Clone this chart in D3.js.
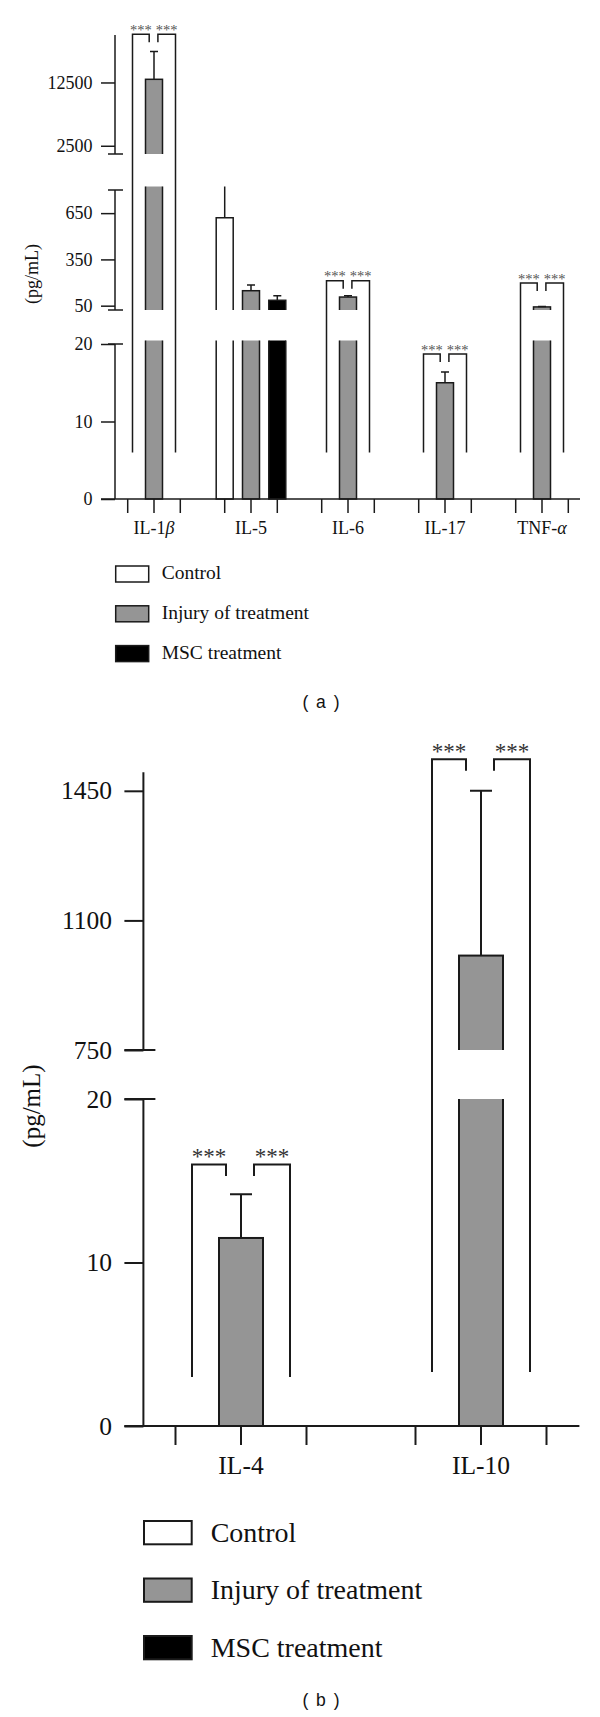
<!DOCTYPE html>
<html>
<head>
<meta charset="utf-8">
<script src="https://cdn.jsdelivr.net/npm/d3@7"></script>
<style>
  body { margin: 0; background: #fff; }
  svg { display: block; }
</style>
</head>
<body>
<div id="chart"></div>
<script>
// series shared by both panels
let seriesNames = ["Control", "Injury of treatment", "MSC treatment"];

// panel (a) values, pg/mL, null = not drawn
let groupsA = ["IL-1β", "IL-5", "IL-6", "IL-17", "TNF-α"];
let controlA = [null, 620, null, null, null];
let controlErrA = [null, 420, null, null, null];
let injuryA = [13000, 147, 106, 15, 42];
let injuryErrA = [4400, 37, 8, 1.4, 3];
let mscA = [null, 85, null, null, null];
let mscErrA = [null, 30, null, null, null];
let bracketTopA = [20100, null, 212, 18.7, 197];
let bracketBottomA = [6, null, 6, 6, 6];
let yTicksA = [[0, 10, 20], [50, 350, 650], [2500, 12500]];

// panel (b)
let groupsB = ["IL-4", "IL-10"];
let controlB = [null, null];
let controlErrB = [null, null];
let injuryB = [11.5, 1005];
let injuryErrB = [2.67, 445];
let mscB = [null, null];
let mscErrB = [null, null];
let bracketTopB = [16, 1535];
let bracketBottomB = [3.0, 3.3];
let yTicksB = [[0, 10, 20], [750, 1100, 1450]];

let fills = ["#ffffff", "#959595", "#000000"];
let ink = "#1a1a1a";
let serif = "'Liberation Serif', 'Times New Roman', serif";

let svg = d3.select("#chart").append("svg")
    .attr("width", 600)
    .attr("height", 1717);

let panelA = {
    id: "a",
    groups: groupsA,
    series: [
        {values: controlA, errs: controlErrA},
        {values: injuryA, errs: injuryErrA},
        {values: mscA, errs: mscErrA}
    ],
    yTicks: yTicksA,
    bracketTop: bracketTopA,
    bracketBottom: bracketBottomA,
    segments: [
        {domain: [0, 20], range: [499, 344]},
        {domain: [22, 800], range: [310, 190]},
        {domain: [1200, 20000], range: [154, 35]}
    ],
    axisX: 115, axisY: 499,
    xRange: [154, 542], subStep: 26.3, xLine: [101, 580],
    barW: 17, capW: 8, lw: 1.5, overshoot: 3.5,
    tickLen: 14, tickPad: 8.5, breakL: 7, breakR: 8,
    font: 18, labelBase: 534,
    yTitle: {x: 38, y: 274, size: 18},
    bracket: {outer: 4.8, innerL: 4.8, innerR: 3.9, drop: 8, starSize: 14.5, starDy: 0.5, starColor: "#555"},
    legend: {x: 115.7, y: 566, w: 33, h: 16, step: 39.8, textX: 161.7, textDy: 13.3, size: 19.5},
    caption: {text: "( a )", y: 707.5}
};

let panelB = {
    id: "b",
    groups: groupsB,
    series: [
        {values: controlB, errs: controlErrB},
        {values: injuryB, errs: injuryErrB},
        {values: mscB, errs: mscErrB}
    ],
    yTicks: yTicksB,
    bracketTop: bracketTopB,
    bracketBottom: bracketBottomB,
    segments: [
        {domain: [0, 20], range: [1426, 1099]},
        {domain: [750, 1500], range: [1050, 772.3]}
    ],
    axisX: 143.4, axisY: 1426,
    xRange: [241, 481], subStep: 65.5, xLine: [124.3, 579.4],
    barW: 44, capW: 22, lw: 2, overshoot: 0,
    tickLen: 19, tickPad: 12.3, breakL: 19, breakR: 12,
    font: 25.5, labelBase: 1474,
    yTitle: {x: 40.3, y: 1106, size: 25},
    bracket: {outer: 16.5, innerL: 15, innerR: 13, drop: 11.5, starSize: 23, starDy: 0, starColor: "#333"},
    legend: {x: 144, y: 1521, w: 47.7, h: 23.3, step: 57.5, textX: 210.7, textDy: 20.7, size: 28},
    caption: {text: "( b )", y: 1705.5}
};

drawPanel(panelA);
drawPanel(panelB);

function drawPanel(p) {
    let g = svg.append("g");

    let x = d3.scalePoint().domain(p.groups).range(p.xRange);
    let sub = d3.scalePoint().domain(seriesNames).range([-p.subStep, p.subStep]);
    let ys = p.segments.map(function (s) {
        return d3.scaleLinear().domain(s.domain).range(s.range);
    });

    // pick the segment a value belongs to
    function yAny(v) {
        for (let i = ys.length - 1; i > 0; i--) {
            if (v >= ys[i].domain()[0]) return ys[i](v);
        }
        return ys[0](v);
    }

    let bars = [];
    p.groups.forEach(function (grp, i) {
        p.series.forEach(function (s, k) {
            if (s.values[i] != null) {
                bars.push({group: grp, name: seriesNames[k], value: s.values[i], err: s.errs[i], fill: fills[k]});
            }
        });
    });

    // bars + error bars, drawn once per axis segment and clipped to it
    ys.forEach(function (y, si) {
        let r = y.range();
        let top = si === ys.length - 1 ? 0 : r[1] - p.overshoot;
        let bottom = si === 0 ? r[0] + 3 : r[0];
        let clipId = "clip-" + p.id + si;
        svg.append("clipPath").attr("id", clipId)
            .append("rect")
            .attr("x", 0).attr("y", top)
            .attr("width", 600).attr("height", bottom - top);

        let seg = g.append("g").attr("clip-path", "url(#" + clipId + ")");

        seg.selectAll("rect.bar")
            .data(bars)
            .enter()
            .append("rect")
            .attr("class", "bar")
            .attr("x", function (d) { return x(d.group) + sub(d.name) - p.barW / 2; })
            .attr("y", function (d) { return y(d.value); })
            .attr("width", p.barW)
            .attr("height", function (d) { return Math.max(0, y(0) - y(d.value)); })
            .attr("fill", function (d) { return d.fill; })
            .attr("stroke", ink)
            .attr("stroke-width", p.lw);

        seg.selectAll("path.err")
            .data(bars.filter(function (d) { return d.err; }))
            .enter()
            .append("path")
            .attr("class", "err")
            .attr("fill", "none")
            .attr("stroke", ink)
            .attr("stroke-width", p.lw)
            .attr("d", function (d) {
                let cx = x(d.group) + sub(d.name);
                let y1 = y(d.value), y2 = y(d.value + d.err);
                return "M" + cx + "," + y1 + "V" + y2 +
                    "M" + (cx - p.capW / 2) + "," + y2 + "H" + (cx + p.capW / 2);
            });
    });

    // y axis, one piece per segment
    ys.forEach(function (y, si) {
        let r = y.range();
        let ax = g.append("g")
            .attr("transform", "translate(" + p.axisX + ",0)")
            .call(d3.axisLeft(y)
                .tickValues(p.yTicks[si])
                .tickFormat(d3.format("d"))
                .tickSize(p.tickLen)
                .tickPadding(p.tickPad)
                .tickSizeOuter(0));
        ax.select(".domain").remove();
        ax.selectAll("line").attr("stroke", ink).attr("stroke-width", p.lw);
        ax.selectAll("text")
            .attr("font-family", serif)
            .attr("font-size", p.font)
            .attr("fill", "#111");

        g.append("line")
            .attr("x1", p.axisX).attr("x2", p.axisX)
            .attr("y1", r[1]).attr("y2", r[0])
            .attr("stroke", ink).attr("stroke-width", p.lw);

        let breaks = [];
        if (si > 0) breaks.push(r[0]);
        if (si < ys.length - 1) breaks.push(r[1]);
        g.selectAll(null)
            .data(breaks)
            .enter()
            .append("line")
            .attr("x1", p.axisX - p.breakL).attr("x2", p.axisX + p.breakR)
            .attr("y1", function (d) { return d; }).attr("y2", function (d) { return d; })
            .attr("stroke", ink).attr("stroke-width", p.lw);
    });

    // x axis: baseline, one tick per bar slot, labels at group centres
    g.append("line")
        .attr("x1", p.xLine[0]).attr("x2", p.xLine[1])
        .attr("y1", p.axisY).attr("y2", p.axisY)
        .attr("stroke", ink).attr("stroke-width", p.lw);

    let slots = [];
    p.groups.forEach(function (grp) {
        seriesNames.forEach(function (n) { slots.push(x(grp) + sub(n)); });
    });
    g.selectAll(null)
        .data(slots)
        .enter()
        .append("line")
        .attr("x1", function (d) { return d; }).attr("x2", function (d) { return d; })
        .attr("y1", p.axisY).attr("y2", p.axisY + p.tickLen)
        .attr("stroke", ink).attr("stroke-width", p.lw);

    let xl = g.selectAll(null)
        .data(p.groups)
        .enter()
        .append("text")
        .attr("x", function (d) { return x(d); })
        .attr("y", p.labelBase)
        .attr("text-anchor", "middle")
        .attr("font-family", serif)
        .attr("font-size", p.font)
        .attr("fill", "#111");
    xl.each(function (d) {
        let t = d3.select(this);
        let last = d.slice(-1);
        if (last === "β" || last === "α") {
            t.append("tspan").text(d.slice(0, -1));
            t.append("tspan").attr("font-style", "italic").text(last);
        } else {
            t.text(d);
        }
    });

    // y title
    g.append("text")
        .attr("transform", "translate(" + p.yTitle.x + "," + p.yTitle.y + ") rotate(-90)")
        .attr("text-anchor", "middle")
        .attr("font-family", serif)
        .attr("font-size", p.yTitle.size)
        .attr("fill", "#111")
        .text("(pg/mL)");

    // significance brackets
    let b = p.bracket;
    p.groups.forEach(function (grp, i) {
        if (p.bracketTop[i] == null) return;
        let yt = yAny(p.bracketTop[i]);
        let yb = yAny(p.bracketBottom[i]);
        let lo = x(grp) + sub(seriesNames[0]) + b.outer;
        let li = x(grp) + sub(seriesNames[1]) - b.innerL;
        let ri = x(grp) + sub(seriesNames[1]) + b.innerR;
        let ro = x(grp) + sub(seriesNames[2]) - b.outer;

        g.append("path")
            .attr("fill", "none").attr("stroke", ink).attr("stroke-width", p.lw)
            .attr("d", "M" + lo + "," + yb + "V" + yt + "H" + li + "V" + (yt + b.drop) +
                "M" + ri + "," + (yt + b.drop) + "V" + yt + "H" + ro + "V" + yb);

        g.selectAll(null)
            .data([(lo + li) / 2, (ri + ro) / 2])
            .enter()
            .append("text")
            .attr("x", function (d) { return d; })
            .attr("y", yt + b.starDy)
            .attr("text-anchor", "middle")
            .attr("font-family", serif)
            .attr("font-size", b.starSize)
            .attr("fill", b.starColor)
            .text("***");
    });

    // legend
    let L = p.legend;
    let lg = g.selectAll(null)
        .data(seriesNames)
        .enter()
        .append("g")
        .attr("transform", function (d, i) { return "translate(0," + (L.y + i * L.step) + ")"; });
    lg.append("rect")
        .attr("x", L.x).attr("y", 0)
        .attr("width", L.w).attr("height", L.h)
        .attr("fill", function (d, i) { return fills[i]; })
        .attr("stroke", ink).attr("stroke-width", p.lw);
    lg.append("text")
        .attr("x", L.textX).attr("y", L.textDy)
        .attr("font-family", serif)
        .attr("font-size", L.size)
        .attr("fill", "#111")
        .text(function (d) { return d; });

    // panel caption
    g.append("text")
        .attr("x", 321.7).attr("y", p.caption.y)
        .attr("text-anchor", "middle")
        .attr("font-family", "'Liberation Sans', Arial, sans-serif")
        .attr("font-size", 17.5)
        .attr("letter-spacing", 1.5)
        .attr("fill", "#111")
        .text(p.caption.text);
}
</script>
</body>
</html>
